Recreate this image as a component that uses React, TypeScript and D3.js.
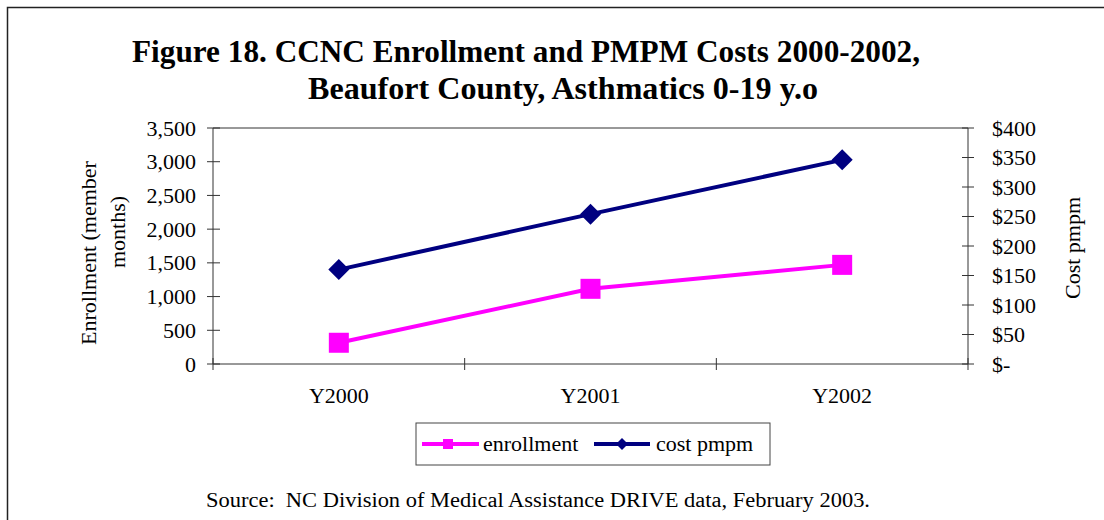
import { useEffect, useRef } from 'react'
import * as d3 from 'd3'

const years = ['Y2000', 'Y2001', 'Y2002']
const enrollment = [315, 1115, 1470]
const costPmpm = [160, 254, 346]
const leftTicks = [0, 500, 1000, 1500, 2000, 2500, 3000, 3500]
const rightTicks = [0, 50, 100, 150, 200, 250, 300, 350, 400]

const PINK = '#FF00FF'
const NAVY = '#000080'
const FONT = '"Liberation Serif", "Times New Roman", serif'

export default function App() {
  const svgRef = useRef<SVGSVGElement>(null)

  useEffect(() => {
    if (!svgRef.current) return
    const svg = d3.select(svgRef.current)
    svg.selectAll('*').remove()

    const plot = { left: 213, right: 968, top: 128, bottom: 364 }

    const x = d3.scaleBand().domain(years).range([plot.left, plot.right])
    const yL = d3.scaleLinear().domain([0, 3500]).range([plot.bottom, plot.top])
    const yR = d3.scaleLinear().domain([0, 400]).range([plot.bottom, plot.top])
    const cx = (d: string) => (x(d) ?? 0) + x.bandwidth() / 2

    // outer frame
    svg.append('rect')
      .attr('x', 7.5).attr('y', 7.5)
      .attr('width', 1120).attr('height', 540)
      .attr('fill', 'none').attr('stroke', '#222').attr('stroke-width', 1.5)

    // title
    const title = svg.append('g')
      .attr('font-family', FONT).attr('font-weight', 'bold').attr('font-size', 31).attr('fill', '#000')
      .style('white-space', 'pre')
    title.append('text')
      .attr('x', 132).attr('y', 62)
      .attr('textLength', 788).attr('lengthAdjust', 'spacingAndGlyphs')
      .text('Figure 18. CCNC Enrollment and PMPM Costs 2000-2002,')
    title.append('text')
      .attr('x', 308).attr('y', 99)
      .attr('textLength', 510).attr('lengthAdjust', 'spacingAndGlyphs')
      .text('Beaufort County,  Asthmatics 0-19 y.o')

    // plot frame (top + axes)
    const axisColor = '#333'
    svg.append('line')
      .attr('x1', plot.left).attr('x2', plot.right).attr('y1', plot.top).attr('y2', plot.top)
      .attr('stroke', axisColor)
    svg.append('line')
      .attr('x1', plot.left).attr('x2', plot.right).attr('y1', plot.bottom).attr('y2', plot.bottom)
      .attr('stroke', axisColor)
    svg.append('line')
      .attr('x1', plot.left).attr('x2', plot.left).attr('y1', plot.top).attr('y2', plot.bottom)
      .attr('stroke', axisColor)
    svg.append('line')
      .attr('x1', plot.right).attr('x2', plot.right).attr('y1', plot.top).attr('y2', plot.bottom)
      .attr('stroke', axisColor)

    // left ticks
    const lt = svg.append('g').attr('font-family', FONT).attr('font-size', 22)
    lt.selectAll('line').data(leftTicks).enter().append('line')
      .attr('x1', plot.left - 6).attr('x2', plot.left + 7)
      .attr('y1', d => yL(d)).attr('y2', d => yL(d))
      .attr('stroke', axisColor)
    lt.selectAll('text').data(leftTicks).enter().append('text')
      .attr('x', 196).attr('y', d => yL(d) + 7.5)
      .attr('text-anchor', 'end')
      .text(d => d3.format(',')(d))

    // right ticks
    const rt = svg.append('g').attr('font-family', FONT).attr('font-size', 22)
    rt.selectAll('line').data(rightTicks).enter().append('line')
      .attr('x1', plot.right - 6).attr('x2', plot.right + 6)
      .attr('y1', d => yR(d)).attr('y2', d => yR(d))
      .attr('stroke', axisColor)
    rt.selectAll('text').data(rightTicks).enter().append('text')
      .attr('x', 992).attr('y', d => yR(d) + 7.5)
      .text(d => (d === 0 ? '$-' : `$${d}`))

    // x ticks at band edges
    const edges = [...years.map(d => x(d) ?? 0), plot.right]
    svg.append('g').selectAll('line').data(edges).enter().append('line')
      .attr('x1', d => d).attr('x2', d => d)
      .attr('y1', plot.bottom - 6).attr('y2', plot.bottom + 6)
      .attr('stroke', axisColor)
    svg.append('g').attr('font-family', FONT).attr('font-size', 22)
      .selectAll('text').data(years).enter().append('text')
      .attr('x', d => cx(d)).attr('y', 403)
      .attr('text-anchor', 'middle')
      .text(d => d)

    // axis titles
    const at = svg.append('g').attr('font-family', FONT).attr('font-size', 22)
    at.append('text')
      .attr('transform', 'translate(96,253) rotate(-90)')
      .attr('text-anchor', 'middle')
      .text('Enrollment (member')
    at.append('text')
      .attr('transform', 'translate(125,232) rotate(-90)')
      .attr('text-anchor', 'middle')
      .text('months)')
    at.append('text')
      .attr('transform', 'translate(1080,248) rotate(-90)')
      .attr('text-anchor', 'middle')
      .text('Cost pmpm')

    // series
    const lineL = d3.line<number>().x((_, i) => cx(years[i])).y(d => yL(d))
    const lineR = d3.line<number>().x((_, i) => cx(years[i])).y(d => yR(d))

    svg.append('path').datum(costPmpm)
      .attr('d', lineR).attr('fill', 'none').attr('stroke', NAVY).attr('stroke-width', 4)
    svg.append('path').datum(enrollment)
      .attr('d', lineL).attr('fill', 'none').attr('stroke', PINK).attr('stroke-width', 4)

    const diamond = (s: number) => `M0,${-s}L${s},0L0,${s}L${-s},0Z`

    svg.selectAll('.dia').data(costPmpm).enter().append('path')
      .attr('class', 'dia')
      .attr('transform', (d, i) => `translate(${cx(years[i])},${yR(d)})`)
      .attr('d', diamond(10.5)).attr('fill', NAVY)
    svg.selectAll('.sq').data(enrollment).enter().append('rect')
      .attr('class', 'sq')
      .attr('x', (_, i) => cx(years[i]) - 10).attr('y', d => yL(d) - 10)
      .attr('width', 20).attr('height', 20).attr('fill', PINK)

    // legend
    const lg = svg.append('g').attr('font-family', FONT).attr('font-size', 22)
    lg.append('rect')
      .attr('x', 416).attr('y', 423).attr('width', 354).attr('height', 42)
      .attr('fill', '#fff').attr('stroke', '#444')
    lg.append('line').attr('x1', 422).attr('x2', 479).attr('y1', 444).attr('y2', 444)
      .attr('stroke', PINK).attr('stroke-width', 4)
    lg.append('rect').attr('x', 443).attr('y', 439).attr('width', 10).attr('height', 10).attr('fill', PINK)
    lg.append('text').attr('x', 483).attr('y', 451).text('enrollment')
    lg.append('line').attr('x1', 594).attr('x2', 650).attr('y1', 444).attr('y2', 444)
      .attr('stroke', NAVY).attr('stroke-width', 4)
    lg.append('path').attr('transform', 'translate(622,444)').attr('d', diamond(6)).attr('fill', NAVY)
    lg.append('text').attr('x', 656).attr('y', 451).text('cost pmpm')

    // source
    svg.append('text')
      .attr('font-family', FONT).attr('font-size', 20)
      .style('white-space', 'pre')
      .attr('x', 206).attr('y', 507)
      .attr('textLength', 664).attr('lengthAdjust', 'spacingAndGlyphs')
      .text('Source:  NC Division of Medical Assistance DRIVE data, February 2003.')
  }, [])

  return (
    <svg
      ref={svgRef}
      width={1104}
      height={520}
      style={{ position: 'absolute', left: 0, top: 0, background: '#fff' }}
    />
  )
}
